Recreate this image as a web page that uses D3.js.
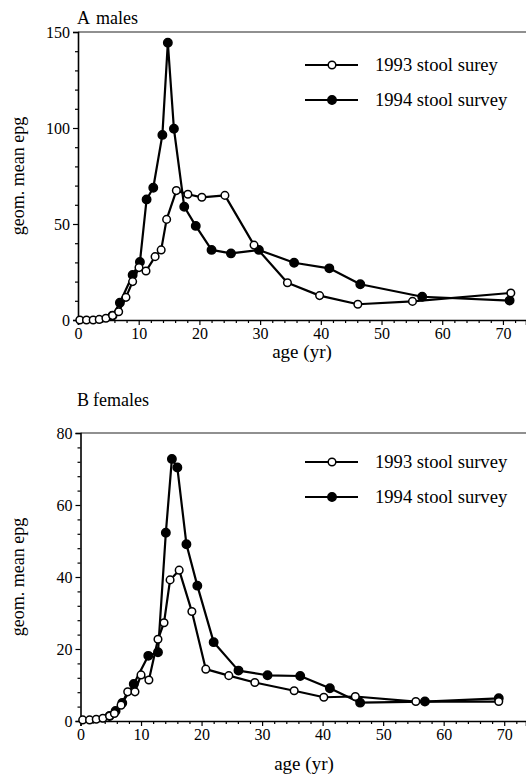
<!DOCTYPE html>
<html><head><meta charset="utf-8">
<script src="https://cdn.jsdelivr.net/npm/d3@7"></script>
<style>body{margin:0;background:#fff}svg{display:block}
svg text{font-family:"Liberation Serif","Tinos","Times New Roman","DejaVu Serif",serif !important;}</style>
</head><body>
<script>
// ---- data ----
const maleAge93 = [0.3,1.4,2.5,3.5,4.6,5.7,6.7,7.9,9.0,10.05,11.2,12.7,13.7,14.6,16.2,18.1,20.4,24.2,29.0,34.5,39.8,46.1,55.1,71.3];
const maleEpg93 = [0,0,0,0.3,0.9,2.3,4.3,11.8,20,27.3,25.5,33,36.5,52.4,67.4,65.5,63.9,64.9,39,19.4,12.7,8.2,9.7,14.1];
const maleAge94 = [5.7,6.9,9.0,10.2,11.3,12.4,13.9,14.8,15.8,17.5,19.4,22.0,25.2,29.8,35.6,41.4,46.5,56.7,71.1];
const maleEpg94 = [2.3,9,23.4,30.2,62.8,68.9,96.4,144.4,99.6,59,49,36.5,34.7,36.5,29.8,26.9,18.6,12.1,10.1];

const femAge93 = [0.36,1.5,2.6,3.7,4.8,5.6,6.7,7.8,9.0,10.0,11.3,12.8,13.8,14.8,16.3,18.4,20.7,24.5,28.8,35.3,40.2,45.4,55.4,69.1];
const femEpg93 = [0.3,0.3,0.5,0.75,1.4,2.1,4.4,8.1,8.1,12.8,11.4,22.7,27.3,39.2,41.9,30.4,14.4,12.6,10.7,8.4,6.6,6.8,5.4,5.4];
const femAge94 = [4.8,5.8,6.9,8.8,11.2,12.8,14.1,15.1,16.0,17.5,19.3,22.0,26.1,30.9,36.3,41.2,46.2,56.9,69.1];
const femEpg94 = [1.4,2.8,5,10.3,18.1,19.1,52.3,72.8,70.4,49.1,37.6,21.9,14.0,12.7,12.5,9.1,5.1,5.4,6.3];

const xTicks = [0,10,20,30,40,50,60,70];
const yTicksA = [0,50,100,150];
const yTicksB = [0,20,40,60,80];
const legendA = ["1993 stool surey","1994 stool survey"];
const legendB = ["1993 stool survey","1994 stool survey"];

const W = 526, H = 776;
const svg = d3.select("body").append("svg").attr("width",W).attr("height",H);

function panel(o){
  const g = svg.append("g");
  const x = d3.scaleLinear().domain([0,o.xmax]).range([o.x0,W]);
  const y = d3.scaleLinear().domain([0,o.ymax]).range([o.y0,o.y1]);
  g.append("line").attr("x1",o.x0).attr("x2",W).attr("y1",o.y1).attr("y2",o.y1)
    .attr("stroke","#222").attr("stroke-width",1.2);
  const xMinor = d3.range(0,o.xmax+0.01,2).filter(v=>v%10!==0);
  const yMinor = d3.range(0,o.ymax+0.01,o.yminor).filter(v=>!o.yTicks.includes(v));
  g.append("g").attr("transform",`translate(0,${o.y0})`)
    .call(d3.axisBottom(x).tickValues(xTicks).tickSize(5).tickPadding(3).tickFormat(d3.format("d")));
  g.append("g").attr("transform",`translate(0,${o.y0})`)
    .call(d3.axisBottom(x).tickValues(xMinor).tickSize(3).tickFormat(""))
    .call(s=>s.select(".domain").remove());
  g.append("g").attr("transform",`translate(${o.x0},0)`)
    .call(d3.axisLeft(y).tickValues(o.yTicks).tickSize(5).tickPadding(3).tickFormat(d3.format("d")));
  g.append("g").attr("transform",`translate(${o.x0},0)`)
    .call(d3.axisLeft(y).tickValues(yMinor).tickSize(3).tickFormat(""))
    .call(s=>s.select(".domain").remove());
  g.selectAll(".domain").attr("stroke","#000").attr("stroke-width",1.6);
  g.selectAll(".tick line").attr("stroke","#000").attr("stroke-width",1.2);
  g.selectAll(".tick text").attr("font-size",16).attr("fill","#000");

  const line = d3.line().x(d=>x(d[0])).y(d=>y(d[1]));
  o.series.forEach(s=>{
    const pts = s.a.map((a,i)=>[a,s.v[i]]);
    g.append("path").datum(pts).attr("d",line).attr("fill","none")
      .attr("stroke","#000").attr("stroke-width",2.2).attr("stroke-linejoin","round");
    g.selectAll(null).data(pts).enter().append("circle")
      .attr("cx",d=>x(d[0])).attr("cy",d=>y(d[1]))
      .attr("r",s.filled?4.2:3.8)
      .attr("fill",s.filled?"#000":"#fff").attr("stroke","#000").attr("stroke-width",1.5);
  });

  o.legend.forEach((t,i)=>{
    const ly = o.legY[i];
    g.append("line").attr("x1",305).attr("x2",358).attr("y1",ly).attr("y2",ly)
      .attr("stroke","#000").attr("stroke-width",2.2);
    g.append("circle").attr("cx",332).attr("cy",ly).attr("r",i===0?3.8:4.2)
      .attr("fill",i===0?"#fff":"#000").attr("stroke","#000").attr("stroke-width",1.5);
    g.append("text").attr("x",375).attr("y",ly+6).attr("font-size",18.6).text(t);
  });

  const tt = g.append("text").attr("y",o.titleY).attr("font-size",18);
  tt.append("tspan").attr("x",77).text(o.titleA);
  tt.append("tspan").attr("x",o.titleBx).text(o.titleB);
  g.append("text").attr("x",o.xlabX).attr("y",o.xlabY).attr("text-anchor","middle")
    .attr("font-size",19).text("age (yr)");
  g.append("text").attr("transform",`translate(24,${(o.y0+o.y1)/2}) rotate(-90)`)
    .attr("text-anchor","middle").attr("font-size",18).text("geom. mean epg");
}

panel({x0:78,y0:320,y1:32,xmax:73.8,ymax:150,yminor:10,yTicks:yTicksA,
  series:[{a:maleAge94,v:maleEpg94,filled:true},{a:maleAge93,v:maleEpg93,filled:false}],
  legend:legendA,legY:[65,100],titleY:24,titleA:"A",titleBx:96,titleB:"males",
  xlabX:302,xlabY:358});
panel({x0:80.5,y0:721,y1:433,xmax:73.6,ymax:80,yminor:4,yTicks:yTicksB,
  series:[{a:femAge94,v:femEpg94,filled:true},{a:femAge93,v:femEpg93,filled:false}],
  legend:legendB,legY:[462,497],titleY:406,titleA:"B",titleBx:93,titleB:"females",
  xlabX:304,xlabY:770});
</script>
</body></html>
